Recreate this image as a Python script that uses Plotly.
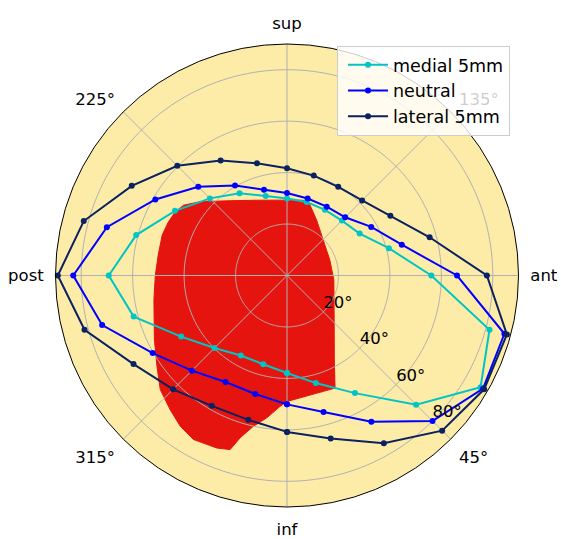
import numpy as np
import plotly.graph_objects as go

# ---- data ----
theta = [0, 15, 30, 45, 60, 75, 90, 105, 120, 135, 150, 165,
         180, 195, 210, 225, 240, 255, 270, 285, 300, 315, 330, 345]
lateral_5mm = [60.8, 65.6, 75.3, 85.3, 88.5, 88.5, 77.7, 57.4, 46.4, 41.3, 39.8, 40.2,
               41.7, 45.2, 51.6, 60.3, 69.7, 81.8, 89.1, 81.5, 68.9, 62.6, 58.5, 58.1]
neutral = [50.1, 54.9, 65.6, 80.0, 88.0, 87.5, 66.1, 46.2, 37.8, 32.0, 30.9, 31.0,
           32.1, 34.5, 40.4, 48.8, 59.1, 72.5, 83.1, 74.4, 60.3, 52.3, 47.8, 47.7]
medial_5mm = [37.9, 43.3, 52.8, 71.0, 86.9, 81.5, 56.1, 41.0, 32.6, 30.2, 29.5, 29.6,
              29.9, 32.0, 36.9, 42.4, 50.3, 60.7, 69.3, 61.7, 47.5, 39.9, 35.9, 35.7]

region_theta = [180, 168, 161.9, 151.8, 134.4, 109.8, 84.5, 46.7, 29.3, 23.1, 359.9,
                356.9, 351.9, 347.4, 343.9, 341.9, 337.9, 330.3, 324.7, 319, 312, 305,
                295.9, 280.4, 270, 261, 252, 245.8, 240.3, 235.8, 229.6, 217.2, 199.7]
region_r = [29.3, 29.9, 28.8, 24.4, 19.7, 17.7, 18.3, 25.2, 37.6, 47.6, 49.0,
            51.0, 55.9, 60.1, 65.7, 71.2, 72.4, 73.4, 71.8, 69.2, 66.3, 61.7,
            57.3, 52.6, 51.2, 50.7, 51.0, 50.6, 50.0, 48.6, 44.3, 36.5, 31.1]

angular_ticks = [0, 45, 90, 135, 180, 225, 270, 315]
angular_labels = ["inf", "45°", "ant", "135°", "sup", "225°", "post", "315°"]
radial_ticks = [20, 40, 60, 80]
radial_labels = ["20°", "40°", "60°", "80°"]
radial_label_theta = 45
r_max = 90

FONT = "DejaVu Sans"
GRID = "#b0b0b0"

fig = go.Figure()

# red region
fig.add_trace(go.Scatterpolar(
    r=region_r + region_r[:1], theta=region_theta + region_theta[:1],
    mode="lines", fill="toself", fillcolor="#e5140e",
    line=dict(color="#e5140e", width=1), showlegend=False, hoverinfo="skip"))

# grid drawn above the region (as in the reference)
circ = np.linspace(0, 360, 361)
for rv in radial_ticks:
    fig.add_trace(go.Scatterpolar(r=[rv] * len(circ), theta=circ, mode="lines",
                                  line=dict(color=GRID, width=1),
                                  showlegend=False, hoverinfo="skip"))
for tv in angular_ticks:
    fig.add_trace(go.Scatterpolar(r=[0, r_max], theta=[tv, tv], mode="lines",
                                  line=dict(color=GRID, width=1),
                                  showlegend=False, hoverinfo="skip"))

def closed(v):
    return list(v) + [v[0]]

for name, vals, col in [("medial 5mm", medial_5mm, "#00c5c5"),
                        ("neutral", neutral, "#0000ff"),
                        ("lateral 5mm", lateral_5mm, "#0b2161")]:
    fig.add_trace(go.Scatterpolar(
        r=closed(vals), theta=closed(theta), mode="lines+markers", name=name,
        line=dict(color=col, width=2), marker=dict(color=col, size=6)))

# radial tick labels (placed along the 45° spoke)
fig.add_trace(go.Scatterpolar(
    r=radial_ticks, theta=[radial_label_theta] * len(radial_ticks),
    mode="text", text=radial_labels, textposition="top right",
    textfont=dict(family=FONT, size=16.5, color="black"),
    showlegend=False, hoverinfo="skip", cliponaxis=False))

W, H = 561, 539
cx, cy, R = 287, 275.5, 232
ml, mr, mt, mb = cx - R, W - (cx + R), cy - R, H - (cy + R)
pw, ph = W - ml - mr, H - mt - mb

fig.update_layout(
    width=W, height=H,
    margin=dict(l=ml, r=mr, t=mt, b=mb, pad=0),
    paper_bgcolor="white",
    font=dict(family=FONT, size=16.5, color="black"),
    polar=dict(
        bgcolor="#fdeba8",
        angularaxis=dict(rotation=-90, direction="counterclockwise",
                         tickmode="array", tickvals=angular_ticks, ticktext=angular_labels,
                         showgrid=False, showline=True, linecolor="black", linewidth=1,
                         ticks="outside", ticklen=8, tickcolor="rgba(0,0,0,0)",
                         tickfont=dict(family=FONT, size=16.5, color="black")),
        radialaxis=dict(range=[0, r_max], tickmode="array", tickvals=radial_ticks,
                        showgrid=False, showline=False, showticklabels=False, ticks=""),
    ),
    legend=dict(x=(337 - ml) / pw, y=1 - (45.5 - mt) / ph,
                xanchor="left", yanchor="top", indentation=5, itemwidth=40,
                bgcolor="rgba(255,255,255,0.8)", bordercolor="#cccccc", borderwidth=1,
                font=dict(family=FONT, size=17.5, color="black")),
)

fig.write_html("out.html", post_script="document.body.style.margin='0';",
               config={"displayModeBar": False})
